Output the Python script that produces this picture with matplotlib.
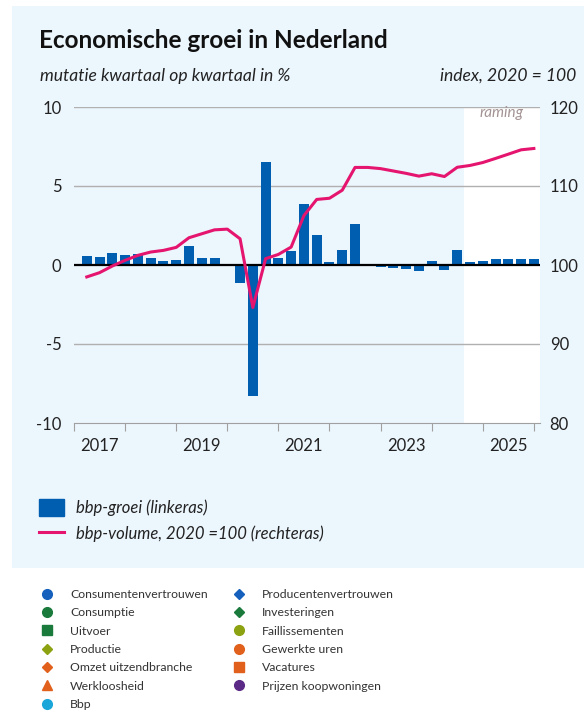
import matplotlib.pyplot as plt
import numpy as np
from matplotlib.patches import Rectangle, Patch
from matplotlib.lines import Line2D

# kwartalen 2017K1 .. 2025K4
jaren = list(range(2017, 2026))
kwartalen = [f"{j}K{k}" for j in jaren for k in range(1, 5)]

# bbp-groei, mutatie kwartaal op kwartaal in %
groei = [0.59, 0.50, 0.75, 0.63, 0.69, 0.46, 0.25, 0.31,
         1.21, 0.44, 0.46, 0.06, -1.13, -8.28, 6.55, 0.44,
         0.90, 3.87, 1.92, 0.17, 0.92, 2.57, 0.00, -0.10,
         -0.20, -0.27, -0.38, 0.23, -0.33, 0.98, 0.17, 0.27,
         0.38, 0.38, 0.38, 0.38]

# bbp-volume, index 2020 = 100
volume = [98.49, 99.03, 99.87, 100.59, 101.22, 101.64, 101.85, 102.23,
          103.45, 103.95, 104.45, 104.54, 103.32, 94.62, 100.80, 101.34,
          102.27, 106.26, 108.30, 108.45, 109.47, 112.35, 112.35, 112.20,
          111.90, 111.60, 111.25, 111.55, 111.20, 112.37, 112.60, 112.97,
          113.49, 114.03, 114.58, 114.75]

eerste_raming = "2024K3"
jaarlabels = [2017, 2019, 2021, 2023, 2025]

legenda_namen = ["Consumentenvertrouwen", "Consumptie", "Uitvoer", "Productie",
                 "Omzet uitzendbranche", "Werkloosheid", "Bbp",
                 "Producentenvertrouwen", "Investeringen", "Faillissementen",
                 "Gewerkte uren", "Vacatures", "Prijzen koopwoningen"]
legenda_markers = ["o", "o", "s", "D", "D", "^", "o", "D", "D", "o", "o", "s", "o"]
legenda_kleuren = ["#1560bd", "#1a7a3c", "#1a7a3c", "#8ca210", "#e0601c", "#e0601c", "#1aa6d8",
                   "#1560bd", "#1a7a3c", "#8ca210", "#e0601c", "#e0601c", "#5b2a86"]

BLAUW = "#005eb1"
ROZE = "#e5156f"
PANEEL = "#ecf6fd"

plt.rcParams['font.family'] = ['Lato', 'DejaVu Sans']

# positie van elk kwartaal: einde van het kwartaal
x = np.array([int(q[:4]) + int(q[-1]) * 0.25 for q in kwartalen])
i_raming = kwartalen.index(eerste_raming)
start_raming = (x[i_raming] + x[i_raming - 1]) / 2

fig = plt.figure(figsize=(5.84, 7.14), dpi=100)
W, H = 584, 714

# lichtblauw paneel
fig.patches.append(Rectangle((12 / W, 1 - 568 / H), 1 - 12 / W, (568 - 6) / H,
                             transform=fig.transFigure, facecolor=PANEEL,
                             edgecolor="none", zorder=-10))

ax = fig.add_axes([74 / W, 1 - 423 / H, 466 / W, 316 / H])
ax.set_facecolor("none")
ax.set_xlim(2017.0, 2026.12)
ax.set_ylim(-10, 10)

ax.axvspan(start_raming, 2026.12, color="white", zorder=0, lw=0)
ax.text((start_raming + 2026.12) / 2, 9.6, "raming", ha="center", va="center",
        style="italic", color="#a39394", fontsize=11)

for g in [5, 10, -5]:
    ax.axhline(g, color="#b0b0b0", lw=1, zorder=1)

ax.bar(x, groei, width=0.196, color=BLAUW, zorder=2)
ax.axhline(0, color="black", lw=1.6, zorder=3)

for s in ["top", "left", "right"]:
    ax.spines[s].set_visible(False)
ax.spines["bottom"].set_color("#a0a0a0")
ax.set_yticks([-10, -5, 0, 5, 10])
ax.set_yticklabels(["-10", "-5", "0", "5", "10"])
ax.tick_params(axis="y", length=0, pad=9, labelsize=12, labelcolor="#222222")

ax.set_xticks(np.arange(2017, 2027))
ax.set_xticklabels([])
ax.set_xticks([j + 0.5 for j in jaarlabels], minor=True)
ax.set_xticklabels([str(j) for j in jaarlabels], minor=True)
ax.tick_params(axis="x", which="major", length=6, color="#a0a0a0")
ax.tick_params(axis="x", which="minor", length=0, pad=11, labelsize=12, labelcolor="#222222")

ax2 = ax.twinx()
ax2.set_ylim(80, 120)
ax2.set_yticks([80, 90, 100, 110, 120])
ax2.plot(x, volume, color=ROZE, lw=2.2, zorder=4)
for s in ["top", "left", "right", "bottom"]:
    ax2.spines[s].set_visible(False)
ax2.tick_params(axis="y", length=0, pad=7, labelsize=12, labelcolor="#222222")

fig.text(39 / W, 1 - 40 / H, "Economische groei in Nederland", fontsize=17.5,
         fontweight="bold", va="center", color="#111111")
fig.text(40 / W, 1 - 76 / H, "mutatie kwartaal op kwartaal in %", fontsize=12.6,
         style="italic", va="center", color="#222222")
fig.text(576 / W, 1 - 76 / H, "index, 2020 = 100", fontsize=12.6,
         style="italic", va="center", ha="right", color="#222222")

# legenda grafiek
handles = [Patch(color=BLAUW, label="bbp-groei (linkeras)"),
           Line2D([], [], color=ROZE, lw=2.2, label="bbp-volume, 2020 =100 (rechteras)")]
leg = fig.legend(handles=handles, loc="upper left", bbox_to_anchor=(24 / W, 1 - 484 / H),
                 frameon=False, prop={"style": "italic", "size": 12},
                 handlelength=1.5, handleheight=1.2, handletextpad=0.75, labelspacing=0.5)
for t in leg.get_texts():
    t.set_color("#222222")

# legenda indicatoren
mhandles = [Line2D([], [], ls="none", marker=m, color=c, markersize=7 if m != "D" else 5.5, label=n)
            for n, m, c in zip(legenda_namen, legenda_markers, legenda_kleuren)]
leg2 = fig.legend(handles=mhandles, loc="upper left", bbox_to_anchor=(29 / W, 1 - 578 / H),
                  ncol=2, frameon=False, fontsize=8.8, handlelength=1.2, handletextpad=1.25,
                  labelspacing=0.6, columnspacing=2.0)
for t in leg2.get_texts():
    t.set_color("#333333")

plt.savefig("out.png", dpi=100)
